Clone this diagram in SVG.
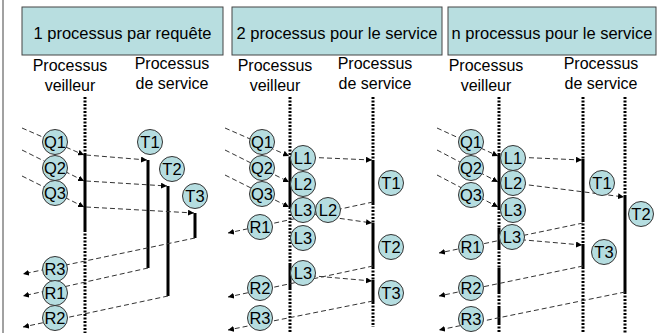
<svg xmlns="http://www.w3.org/2000/svg" width="666" height="333" viewBox="0 0 666 333">
<defs>
<marker id="ah" markerUnits="userSpaceOnUse" markerWidth="7" markerHeight="6" refX="6" refY="3" orient="auto">
<path d="M0,0 L6,3 L0,6 Z" fill="#000"/>
</marker>
<style>
.hdr{fill:#b8dee0;stroke:#444;stroke-width:1}
.ht{font-family:"Liberation Sans",Arial,sans-serif;font-size:16.5px;fill:#000;text-anchor:middle}
.ct{font-family:"Liberation Sans",Arial,sans-serif;font-size:16px;fill:#000;text-anchor:middle}
.nd circle{fill:#b5dde0;stroke:#333;stroke-width:1}
.nd text{font-family:"Liberation Sans",Arial,sans-serif;font-size:16.5px;fill:#000;text-anchor:middle}
.dot{stroke:#000;stroke-width:3;stroke-dasharray:2 1.5;fill:none}
.sol{stroke:#000;stroke-width:3;fill:none}
.dsh{stroke:#333;stroke-width:1;stroke-dasharray:5 3;fill:none;marker-end:url(#ah)}
</style>
</defs>
<rect width="666" height="333" fill="#fff"/>
<line x1="3" y1="0" x2="3" y2="333" stroke="#444" stroke-width="1"/>

<!-- headers -->
<g id="header1"><rect class="hdr" x="22" y="7" width="201" height="48"/><text class="ht" x="122.5" y="39">1 processus par requête</text></g>
<g id="header2"><rect class="hdr" x="232" y="7" width="210" height="48"/><text class="ht" x="337" y="39">2 processus pour le service</text></g>
<g id="header3"><rect class="hdr" x="448" y="7" width="208" height="48"/><text class="ht" x="552" y="39">n processus pour le service</text></g>

<g id="labels">
<text class="ct" x="70" y="71">Processus</text><text class="ct" x="70" y="91">veilleur</text>
<text class="ct" x="172" y="69">Processus</text><text class="ct" x="172" y="89">de service</text>
<text class="ct" x="275" y="71">Processus</text><text class="ct" x="275" y="91">veilleur</text>
<text class="ct" x="375" y="69">Processus</text><text class="ct" x="375" y="89">de service</text>
<text class="ct" x="486" y="71">Processus</text><text class="ct" x="486" y="91">veilleur</text>
<text class="ct" x="601" y="69">Processus</text><text class="ct" x="601" y="89">de service</text>
</g>

<!-- timelines -->
<g id="timelines">
<path class="dot" d="M85,97V153 M85,230V333"/>
<path class="sol" d="M85,153V230 M148,160V268 M168,186V296 M195,213V238"/>
<path class="dot" d="M290,97V157 M290,207V263 M290,288V333 M373,97V160 M373,203V223 M373,267V280 M373,302V327"/>
<path class="sol" d="M290,157V207 M290,263V288 M373,160V203 M373,223V267 M373,280V302"/>
<path class="dot" d="M499,97V155 M499,208V228 M499,248V268 M499,292V307 M499,323V333 M583,97V159 M583,220V244 M583,267V333 M625,97V197 M625,292V333"/>
<path class="sol" d="M499,155V208 M499,228V248 M499,268V292 M499,307V323 M583,159V220 M583,244V267 M625,197V292"/>
</g>

<g id="connectors">
<line class="dsh" x1="22" y1="128" x2="84" y2="155"/>
<line class="dsh" x1="22" y1="150" x2="84" y2="181"/>
<line class="dsh" x1="22" y1="176" x2="84" y2="207"/>
<line class="dsh" x1="86" y1="155" x2="147" y2="160"/>
<line class="dsh" x1="86" y1="181" x2="167" y2="186"/>
<line class="dsh" x1="86" y1="207" x2="194" y2="213"/>
<line class="dsh" x1="195" y1="238" x2="23" y2="274"/>
<line class="dsh" x1="148" y1="268" x2="23" y2="296"/>
<line class="dsh" x1="168" y1="296" x2="23" y2="327"/>

<line class="dsh" x1="225" y1="128" x2="289" y2="156"/>
<line class="dsh" x1="225" y1="150" x2="289" y2="182"/>
<line class="dsh" x1="225" y1="175" x2="289" y2="207"/>
<line class="dsh" x1="303" y1="157" x2="372" y2="160"/>
<line class="dsh" x1="373" y1="202" x2="228" y2="233"/>
<line class="dsh" x1="316" y1="215" x2="372" y2="223"/>
<line class="dsh" x1="373" y1="266" x2="228" y2="297"/>
<line class="dsh" x1="303" y1="275" x2="372" y2="281"/>
<line class="dsh" x1="373" y1="301" x2="228" y2="330"/>

<line class="dsh" x1="437" y1="128" x2="498" y2="156"/>
<line class="dsh" x1="437" y1="150" x2="498" y2="182"/>
<line class="dsh" x1="437" y1="175" x2="498" y2="207"/>
<line class="dsh" x1="513" y1="157" x2="582" y2="160"/>
<line class="dsh" x1="513" y1="183" x2="624" y2="197"/>
<line class="dsh" x1="583" y1="223" x2="439" y2="253"/>
<line class="dsh" x1="513" y1="239" x2="582" y2="245"/>
<line class="dsh" x1="583" y1="266" x2="439" y2="296"/>
<line class="dsh" x1="625" y1="292" x2="439" y2="330"/>
</g>

<!-- panel 1 nodes -->
<g id="p1-Q1" class="nd"><circle cx="55" cy="142" r="12.5"/><text x="55" y="148">Q1</text></g>
<g id="p1-Q2" class="nd"><circle cx="55" cy="168" r="12.5"/><text x="55" y="174">Q2</text></g>
<g id="p1-Q3" class="nd"><circle cx="55" cy="193" r="12.5"/><text x="55" y="199">Q3</text></g>
<g id="p1-T1" class="nd"><circle cx="150" cy="142" r="12.5"/><text x="150" y="148">T1</text></g>
<g id="p1-T2" class="nd"><circle cx="172" cy="169" r="12.5"/><text x="172" y="175">T2</text></g>
<g id="p1-T3" class="nd"><circle cx="195" cy="196" r="12.5"/><text x="195" y="202">T3</text></g>
<g id="p1-R3" class="nd"><circle cx="55" cy="269" r="12.5"/><text x="55" y="275">R3</text></g>
<g id="p1-R1" class="nd"><circle cx="55" cy="293" r="12.5"/><text x="55" y="299">R1</text></g>
<g id="p1-R2" class="nd"><circle cx="55" cy="318" r="12.5"/><text x="55" y="324">R2</text></g>

<!-- panel 2 nodes -->
<g id="p2-Q1" class="nd"><circle cx="262" cy="142" r="12.5"/><text x="262" y="148">Q1</text></g>
<g id="p2-Q2" class="nd"><circle cx="262" cy="168" r="12.5"/><text x="262" y="174">Q2</text></g>
<g id="p2-Q3" class="nd"><circle cx="262" cy="194" r="12.5"/><text x="262" y="200">Q3</text></g>
<g id="p2-L1" class="nd"><circle cx="303" cy="158" r="12.5"/><text x="303" y="164">L1</text></g>
<g id="p2-L2" class="nd"><circle cx="303" cy="184" r="12.5"/><text x="303" y="190">L2</text></g>
<g id="p2-L3" class="nd"><circle cx="303" cy="210" r="12.5"/><text x="303" y="216">L3</text></g>
<g id="p2-L2b" class="nd"><circle cx="328" cy="210" r="12.5"/><text x="328" y="216">L2</text></g>
<g id="p2-T1" class="nd"><circle cx="391" cy="183" r="12.5"/><text x="391" y="189">T1</text></g>
<g id="p2-R1" class="nd"><circle cx="260" cy="227" r="12.5"/><text x="260" y="233">R1</text></g>
<g id="p2-L3b" class="nd"><circle cx="303" cy="238" r="12.5"/><text x="303" y="244">L3</text></g>
<g id="p2-T2" class="nd"><circle cx="391" cy="247" r="12.5"/><text x="391" y="253">T2</text></g>
<g id="p2-L3c" class="nd"><circle cx="303" cy="273" r="12.5"/><text x="303" y="279">L3</text></g>
<g id="p2-R2" class="nd"><circle cx="260" cy="288" r="12.5"/><text x="260" y="294">R2</text></g>
<g id="p2-T3" class="nd"><circle cx="391" cy="293" r="12.5"/><text x="391" y="299">T3</text></g>
<g id="p2-R3" class="nd"><circle cx="260" cy="318" r="12.5"/><text x="260" y="324">R3</text></g>

<!-- panel 3 nodes -->
<g id="p3-Q1" class="nd"><circle cx="471" cy="142" r="12.5"/><text x="471" y="148">Q1</text></g>
<g id="p3-Q2" class="nd"><circle cx="471" cy="168" r="12.5"/><text x="471" y="174">Q2</text></g>
<g id="p3-Q3" class="nd"><circle cx="471" cy="195" r="12.5"/><text x="471" y="201">Q3</text></g>
<g id="p3-L1" class="nd"><circle cx="513" cy="158" r="12.5"/><text x="513" y="164">L1</text></g>
<g id="p3-L2" class="nd"><circle cx="513" cy="183" r="12.5"/><text x="513" y="189">L2</text></g>
<g id="p3-L3" class="nd"><circle cx="513" cy="210" r="12.5"/><text x="513" y="216">L3</text></g>
<g id="p3-T1" class="nd"><circle cx="602" cy="183" r="12.5"/><text x="602" y="189">T1</text></g>
<g id="p3-T2" class="nd"><circle cx="641" cy="214" r="12.5"/><text x="641" y="220">T2</text></g>
<g id="p3-L3b" class="nd"><circle cx="512" cy="237" r="12.5"/><text x="512" y="243">L3</text></g>
<g id="p3-R1" class="nd"><circle cx="471" cy="247" r="12.5"/><text x="471" y="253">R1</text></g>
<g id="p3-T3" class="nd"><circle cx="604" cy="252" r="12.5"/><text x="604" y="258">T3</text></g>
<g id="p3-R2" class="nd"><circle cx="471" cy="288" r="12.5"/><text x="471" y="294">R2</text></g>
<g id="p3-R3" class="nd"><circle cx="471" cy="319" r="12.5"/><text x="471" y="325">R3</text></g>
</svg>
